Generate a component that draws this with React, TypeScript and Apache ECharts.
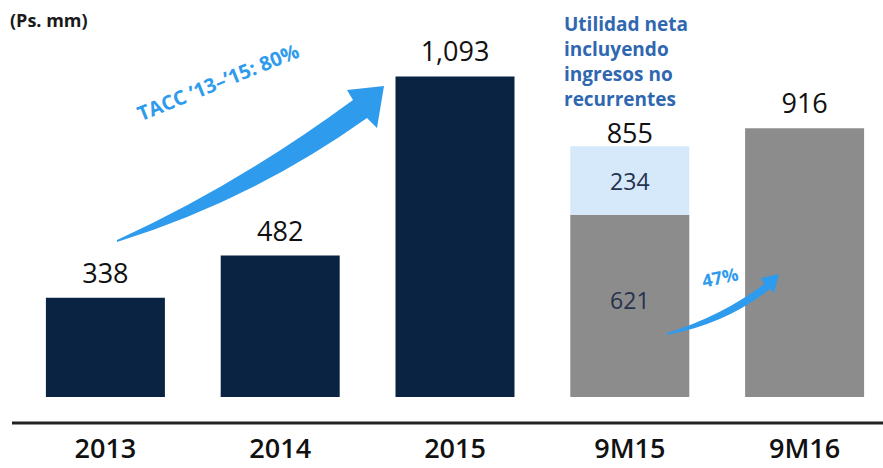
import React, { useEffect, useRef } from "react";
import * as echarts from "echarts";

const categories = ["2013", "2014", "2015", "9M15", "9M16"];
const recurring = [338, 482, 1093, 621, 916];
const nonRecurring: (number | string)[] = ["-", "-", "-", 234, "-"];
const totals: (number | string)[] = ["-", "-", "-", 855, "-"];
const unitLabel = "(Ps. mm)";
const noteLines = ["Utilidad neta", "incluyendo", "ingresos no", "recurrentes"];
const cagrLabel = "TACC \u201913\u2013\u201915: 80%";
const growthLabel = "47%";

const NAVY = "#0a2342";
const GRAY = "#8c8c8c";
const LIGHT = "#d5e9fb";
const ARROW = "#2f9bec";
const NUM_FONT = "'Open Sans', 'Noto Sans', sans-serif";

const fmt = (v: number) => v.toLocaleString("en-US");

export default function App() {
  const ref = useRef<HTMLDivElement>(null);
  useEffect(() => {
    if (!ref.current) return;
    echarts.graphic.registerShape(
      "bigArrow",
      echarts.graphic.extendPath(
        "M117,240 Q236,186 353,100 L347,90 L384,86 L377,128 L367,118 Q252,200 117,242 Z",
        {}
      )
    );
    echarts.graphic.registerShape(
      "smallArrow",
      echarts.graphic.extendPath(
        "M667,333 Q722,316 764,284 L761,278 L779,274 L774,293 L770,289 Q726,324 667,335 Z",
        {}
      )
    );
    const chart = echarts.init(ref.current, null, { renderer: "svg" });
    const topLabel = {
      show: true,
      position: "top",
      distance: 12,
      color: "#111",
      fontFamily: NUM_FONT,
      fontSize: 27,
      fontWeight: 500,
      formatter: (p: any) => fmt(p.value),
    };
    chart.setOption({
      animation: false,
      grid: { left: 18, width: 874, top: 45, height: 352 },
      xAxis: {
        type: "category",
        data: categories,
        offset: 26,
        axisLine: { show: false },
        axisTick: { show: false },
        axisLabel: {
          margin: 11,
          color: "#111",
          fontFamily: NUM_FONT,
          fontWeight: 600,
          fontSize: 27,
        },
      },
      yAxis: { type: "value", min: 0, max: 1200, show: false },
      series: [
        {
          name: "Utilidad neta",
          type: "bar",
          stack: "a",
          barWidth: 119,
          data: recurring.map((v, i) =>
            i === 3
              ? {
                  value: v,
                  label: {
                    show: true,
                    position: "inside",
                    distance: 0,
                    offset: [0, -6],
                    color: "#26324f",
                    fontFamily: NUM_FONT,
                    fontSize: 23,
                    fontWeight: "normal",
                  },
                }
              : v
          ),
          itemStyle: { color: (p: any) => (p.dataIndex < 3 ? NAVY : GRAY) },
          label: topLabel,
        },
        {
          name: "Ingresos no recurrentes",
          type: "bar",
          stack: "a",
          barWidth: 119,
          data: nonRecurring,
          itemStyle: { color: LIGHT },
          label: {
            show: true,
            position: "inside",
            color: "#26324f",
            fontFamily: NUM_FONT,
            fontSize: 23,
          },
        },
        {
          name: "Total",
          type: "bar",
          barWidth: 119,
          barGap: "-100%",
          data: totals,
          itemStyle: { color: "rgba(0,0,0,0)" },
          label: { ...topLabel, distance: 0 },
          silent: true,
        },
      ],
      graphic: [
        {
          type: "line",
          z: 100,
          shape: { x1: 12, y1: 423, x2: 883, y2: 423 },
          style: { stroke: "#222", lineWidth: 3 },
        },
        {
          type: "text",
          x: 10,
          y: 11,
          z: 100,
          style: {
            text: unitLabel,
            fill: "#1a1a1a",
            font: "bold 18px 'Open Sans', sans-serif",
          },
        },
        {
          type: "text",
          x: 564,
          y: 11,
          z: 100,
          style: {
            text: noteLines.join("\n"),
            fill: "#2f67b1",
            font: "bold 19px 'Open Sans', sans-serif",
            lineHeight: 25,
          },
        },
        { type: "bigArrow", x: 0, y: 0, z: 100, style: { fill: ARROW } },
        { type: "smallArrow", x: 0, y: 0, z: 100, style: { fill: ARROW } },
        {
          type: "text",
          x: 218,
          y: 82,
          z: 100,
          rotation: (22 * Math.PI) / 180,
          style: {
            text: cagrLabel,
            fill: ARROW,
            font: "bold 20px 'Open Sans', sans-serif",
            align: "center",
            verticalAlign: "middle",
          },
        },
        {
          type: "text",
          x: 720,
          y: 277,
          z: 100,
          rotation: (12 * Math.PI) / 180,
          style: {
            text: growthLabel,
            fill: ARROW,
            font: "bold 18px 'Open Sans', sans-serif",
            align: "center",
            verticalAlign: "middle",
          },
        },
      ],
    });
    return () => chart.dispose();
  }, []);
  return (
    <div
      style={{
        position: "absolute",
        left: 0,
        top: 0,
        width: 883,
        height: 468,
        overflow: "hidden",
      }}
    >
      <div ref={ref} style={{ width: 900, height: 468 }} />
    </div>
  );
}
